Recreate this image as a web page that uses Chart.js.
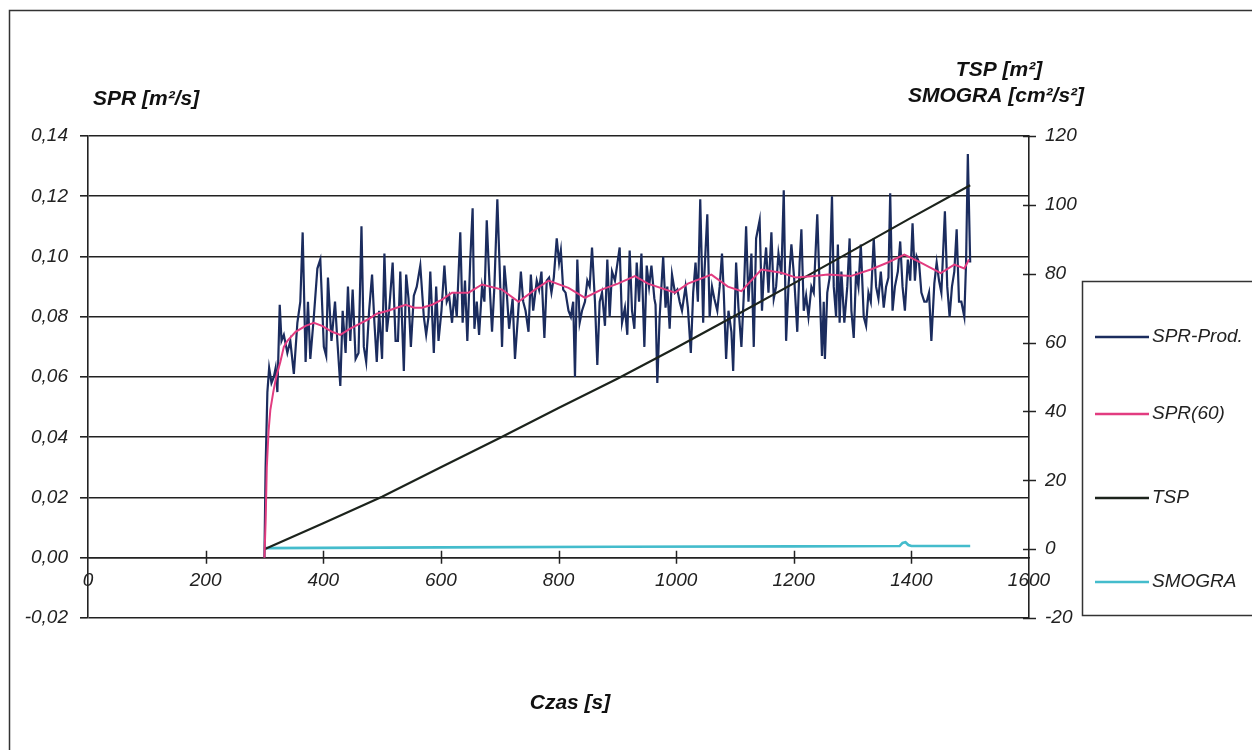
<!DOCTYPE html>
<html><head><meta charset="utf-8">
<script src="https://cdn.jsdelivr.net/npm/chart.js@4.4.0/dist/chart.umd.min.js"></script>
<style>html,body{margin:0;padding:0;background:#fff;}canvas{display:block;}</style>
</head><body>
<canvas id="c" width="1252" height="750"></canvas>
<script>
// ---- data ----
const sprTime = [300,302,305,308,312,316,319,322,326,329,333,339,344,350,356,361,365,370,374,378,384,390,395,401,405,408,414,420,424,429,433,438,442,446,450,455,460,465,469,473,478,483,487,491,495,500,504,508,512,518,523,527,531,537,541,545,549,554,559,565,571,575,579,582,588,592,596,601,606,610,614,619,623,627,633,637,641,645,650,654,657,661,665,670,674,678,682,687,691,696,701,704,708,712,716,722,726,731,736,740,744,749,753,757,763,767,771,776,780,784,788,792,797,801,804,808,812,817,821,825,828,832,836,840,845,849,853,857,862,866,870,874,879,883,887,891,896,904,908,913,917,921,925,929,933,937,941,946,950,954,958,963,965,968,972,978,982,985,989,993,998,1002,1006,1010,1016,1020,1025,1029,1033,1037,1041,1046,1048,1053,1057,1061,1065,1070,1074,1078,1081,1085,1089,1094,1097,1102,1106,1111,1115,1119,1123,1128,1132,1136,1142,1146,1149,1153,1157,1162,1166,1170,1174,1179,1183,1187,1191,1196,1201,1206,1210,1213,1217,1221,1225,1230,1234,1240,1244,1248,1251,1253,1257,1261,1265,1268,1272,1275,1278,1281,1286,1291,1295,1298,1302,1306,1310,1314,1319,1323,1327,1331,1336,1340,1344,1348,1353,1357,1361,1364,1368,1372,1377,1381,1385,1389,1394,1398,1402,1406,1409,1413,1417,1422,1426,1430,1434,1439,1443,1447,1451,1457,1461,1465,1469,1473,1477,1481,1485,1490,1493,1496,1500];
const sprProd = [0.000,0.030,0.055,0.063,0.058,0.060,0.063,0.055,0.084,0.072,0.074,0.068,0.072,0.061,0.078,0.085,0.108,0.065,0.085,0.066,0.080,0.096,0.099,0.070,0.067,0.093,0.072,0.085,0.072,0.057,0.082,0.068,0.090,0.072,0.089,0.066,0.068,0.110,0.070,0.065,0.082,0.094,0.078,0.065,0.082,0.066,0.101,0.075,0.082,0.098,0.072,0.072,0.095,0.062,0.094,0.086,0.070,0.087,0.090,0.097,0.080,0.074,0.080,0.095,0.068,0.090,0.072,0.082,0.097,0.085,0.087,0.078,0.088,0.080,0.108,0.078,0.092,0.072,0.099,0.116,0.076,0.085,0.074,0.090,0.085,0.112,0.094,0.075,0.090,0.119,0.090,0.070,0.097,0.088,0.076,0.086,0.066,0.080,0.095,0.085,0.082,0.075,0.094,0.082,0.092,0.089,0.095,0.073,0.092,0.093,0.088,0.093,0.106,0.098,0.102,0.089,0.088,0.082,0.080,0.085,0.060,0.099,0.078,0.082,0.085,0.092,0.090,0.103,0.085,0.064,0.085,0.088,0.077,0.099,0.080,0.095,0.092,0.103,0.078,0.083,0.074,0.102,0.082,0.076,0.098,0.085,0.101,0.070,0.097,0.090,0.097,0.086,0.084,0.058,0.080,0.100,0.083,0.090,0.076,0.094,0.088,0.089,0.085,0.082,0.090,0.083,0.068,0.088,0.098,0.085,0.119,0.078,0.094,0.114,0.080,0.090,0.086,0.082,0.090,0.101,0.088,0.066,0.082,0.075,0.062,0.098,0.083,0.070,0.087,0.110,0.085,0.101,0.070,0.106,0.112,0.082,0.094,0.103,0.088,0.108,0.086,0.090,0.101,0.094,0.122,0.072,0.090,0.104,0.092,0.075,0.098,0.109,0.082,0.087,0.080,0.090,0.088,0.114,0.090,0.067,0.085,0.066,0.088,0.093,0.120,0.090,0.080,0.104,0.078,0.095,0.078,0.090,0.106,0.082,0.073,0.095,0.090,0.104,0.080,0.077,0.088,0.085,0.106,0.090,0.086,0.095,0.083,0.090,0.093,0.121,0.082,0.090,0.095,0.105,0.090,0.082,0.099,0.092,0.111,0.092,0.100,0.098,0.088,0.085,0.085,0.088,0.072,0.091,0.098,0.092,0.088,0.115,0.090,0.080,0.090,0.095,0.109,0.085,0.085,0.080,0.098,0.134,0.098];

const sprAvgTime = [300,302,304,307,310,315,320,327,333,339,353,370,384,398,415,429,445,455,475,491,510,525,540,555,568,585,602,619,647,670,704,732,760,783,817,845,873,901,930,952,998,1020,1060,1088,1111,1145,1179,1204,1235,1258,1297,1331,1360,1388,1416,1450,1473,1490,1498];
const sprAvg = [0.000,0.012,0.030,0.042,0.049,0.055,0.060,0.065,0.070,0.072,0.075,0.077,0.078,0.077,0.075,0.074,0.076,0.077,0.079,0.081,0.082,0.083,0.084,0.083,0.083,0.084,0.0857,0.088,0.088,0.0907,0.089,0.085,0.089,0.092,0.0896,0.0863,0.089,0.091,0.0935,0.091,0.088,0.091,0.094,0.090,0.0885,0.0957,0.0946,0.093,0.0935,0.094,0.0935,0.0957,0.098,0.1006,0.098,0.0945,0.0973,0.096,0.099];

const tspTime = [300,400,500,600,700,800,900,1000,1100,1200,1300,1400,1500];
const tsp = [0,7.5,15.2,23.8,32.3,41.0,49.5,58.5,67.8,77.2,86.7,96.3,105.7];

const smograTime = [300,600,900,1200,1380,1385,1390,1395,1400,1500];
const smogra = [0.3,0.5,0.7,0.8,0.9,1.8,2.0,1.2,0.9,0.9];

const seriesNames = ['SPR-Prod.','SPR(60)','TSP','SMOGRA'];
const seriesColors = ['#1b2c5e','#e23c80','#1c231c','#44bccc'];
const xTickValues = [0,200,400,600,800,1000,1200,1400,1600];
const leftTitle = 'SPR [m\u00b2/s]';
const rightTitle1 = 'TSP [m\u00b2]';
const rightTitle2 = 'SMOGRA [cm\u00b2/s\u00b2]';
const xTitle = 'Czas [s]';

const toXY = (t, v) => t.map((x, i) => ({x: x, y: v[i]}));
const FONT = '"Liberation Sans", Arial, sans-serif';

Chart.defaults.font.family = FONT;
Chart.defaults.font.style = 'italic';
Chart.defaults.font.size = 19;
Chart.defaults.color = '#222';

const decor = {
  id: 'decor',
  afterDraw(chart) {
    const ctx = chart.ctx, a = chart.chartArea;
    const sx = chart.scales.x, sy = chart.scales.y, sy2 = chart.scales.y2;
    ctx.save();
    // outer frame
    ctx.strokeStyle = '#333'; ctx.lineWidth = 1.5;
    ctx.beginPath(); ctx.moveTo(9.5, 760); ctx.lineTo(9.5, 10.5); ctx.lineTo(1262, 10.5); ctx.stroke();
    // crossing ticks on x axis
    const y0 = sy.getPixelForValue(0);
    ctx.strokeStyle = '#222'; ctx.lineWidth = 1.5;
    xTickValues.forEach(v => {
      if (v > 0 && v < 1600) {
        const px = Math.round(sx.getPixelForValue(v)) + 0.5;
        ctx.beginPath(); ctx.moveTo(px, y0 - 7); ctx.lineTo(px, y0 + 6); ctx.stroke();
      }
    });
    // crossing ticks on right axis
    sy2.ticks.forEach(t => {
      const py = Math.round(sy2.getPixelForValue(t.value)) + 0.5;
      ctx.beginPath(); ctx.moveTo(a.right - 6, py); ctx.lineTo(a.right + 7, py); ctx.stroke();
    });
    // titles
    ctx.fillStyle = '#111';
    ctx.font = 'italic bold 21px ' + FONT;
    ctx.textBaseline = 'middle';
    ctx.textAlign = 'left'; ctx.fillText(leftTitle, 93, 99);
    ctx.textAlign = 'center';
    ctx.fillText(rightTitle1, 999, 70);
    ctx.fillText(rightTitle2, 996, 96);
    ctx.fillText(xTitle, 570, 703);
    // legend
    ctx.strokeStyle = '#333'; ctx.lineWidth = 1.5;
    ctx.strokeRect(1082.5, 281.5, 200, 334);
    const rows = [337, 414, 498, 582];
    ctx.font = 'italic 19px ' + FONT;
    ctx.textAlign = 'left';
    chart.data.datasets.forEach((ds, i) => {
      ctx.strokeStyle = ds.borderColor; ctx.lineWidth = 2.5;
      ctx.beginPath(); ctx.moveTo(1095, rows[i]); ctx.lineTo(1149, rows[i]); ctx.stroke();
      ctx.fillStyle = '#222';
      ctx.fillText(ds.label, 1152, rows[i]);
    });
    ctx.restore();
  }
};

new Chart(document.getElementById('c'), {
  type: 'line',
  data: {
    datasets: [
      {label: seriesNames[0], data: toXY(sprTime, sprProd), yAxisID: 'y', borderColor: seriesColors[0], borderWidth: 2.2, order: 2},
      {label: seriesNames[1], data: toXY(sprAvgTime, sprAvg), yAxisID: 'y', borderColor: seriesColors[1], borderWidth: 2, order: 0},
      {label: seriesNames[2], data: toXY(tspTime, tsp), yAxisID: 'y2', borderColor: seriesColors[2], borderWidth: 2.2, order: 1},
      {label: seriesNames[3], data: toXY(smograTime, smogra), yAxisID: 'y2', borderColor: seriesColors[3], borderWidth: 2.6, order: 3}
    ]
  },
  options: {
    responsive: false,
    animation: false,
    events: [],
    parsing: false,
    elements: {point: {radius: 0}, line: {tension: 0, fill: false}},
    layout: {padding: {left: 0, right: 0, top: 136, bottom: 132}},
    plugins: {legend: {display: false}, tooltip: {enabled: false}, title: {display: false}},
    scales: {
      x: {
        type: 'linear', position: {y: 0}, min: 0, max: 1600,
        afterBuildTicks: s => { s.ticks = xTickValues.map(v => ({value: v})); },
        ticks: {autoSkip: false, maxRotation: 0, padding: 12, color: '#222', callback: v => String(v)},
        grid: {drawOnChartArea: false, drawTicks: false},
        border: {display: true, color: '#222', width: 1.6}
      },
      y: {
        type: 'linear', position: 'left', min: -0.02, max: 0.14,
        ticks: {stepSize: 0.02, padding: 12, color: '#222', callback: v => v.toFixed(2).replace('.', ',')},
        grid: {color: '#222', lineWidth: 1.6, tickLength: 8, drawTicks: true},
        border: {display: true, color: '#222', width: 1.6},
        afterFit: s => { s.width = 88; }
      },
      y2: {
        type: 'linear', position: 'right', min: -20, max: 120,
        ticks: {stepSize: 20, padding: 16, color: '#222', callback: v => String(v)},
        grid: {drawOnChartArea: false, drawTicks: false},
        border: {display: true, color: '#222', width: 1.6},
        afterFit: s => { s.width = 223; }
      }
    }
  },
  plugins: [decor]
});
</script>
</body></html>
